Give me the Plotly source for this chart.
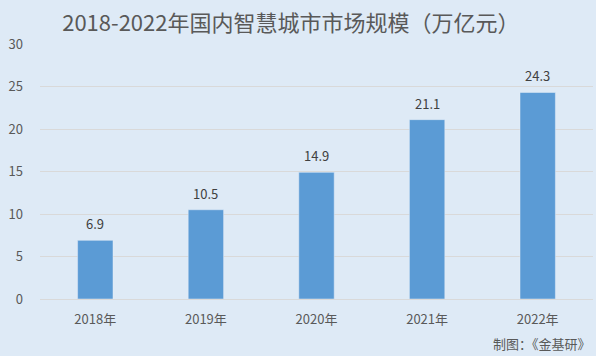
import plotly.graph_objects as go

categories = ["2018年", "2019年", "2020年", "2021年", "2022年"]
values = [6.9, 10.5, 14.9, 21.1, 24.3]
y_ticks = [0, 5, 10, 15, 20, 25, 30]
title = "2018-2022年国内智慧城市市场规模（万亿元）"
source = "制图：《金基研》"

bg = "#DEEAF6"
font_fam = "Noto Sans CJK SC, Noto Sans, sans-serif"

fig = go.Figure(go.Bar(
    x=categories, y=values,
    marker_color="#5B9BD5",
    width=0.32,
    hoverinfo="skip",
))

for c, v in zip(categories, values):
    fig.add_annotation(x=c, y=v, text=f"{v:.1f}", showarrow=False,
                       yanchor="bottom", yshift=5,
                       font=dict(size=13, color="#404040"))

fig.update_layout(
    width=596, height=356,
    paper_bgcolor=bg, plot_bgcolor=bg,
    margin=dict(l=40, r=3, t=44, b=57),
    font=dict(family=font_fam, color="#595959"),
    title=dict(text=title, x=0.488, xanchor="center", y=0.935, yanchor="middle",
               font=dict(size=22, color="#595959")),
    showlegend=False,
)
fig.update_yaxes(range=[0, 30], tickvals=y_ticks, showgrid=True, gridcolor="#D9D9D9",
                 gridwidth=1, zeroline=False, showline=False,
                 tickfont=dict(size=13, color="#595959"), ticks="", ticklabelstandoff=16)
fig.update_xaxes(showline=True, linecolor="#D9D9D9", ticks="", ticklabelstandoff=8,
                 tickfont=dict(size=13, color="#595959"))
fig.add_annotation(text=source, xref="paper", yref="paper", x=1.0, y=-0.175,
                   xanchor="right", yanchor="middle", showarrow=False,
                   font=dict(size=13, color="#595959"))

fig.write_html("out.html", config={"displayModeBar": False},
               post_script="document.body.style.margin='0';document.body.style.background='" + bg + "';")
